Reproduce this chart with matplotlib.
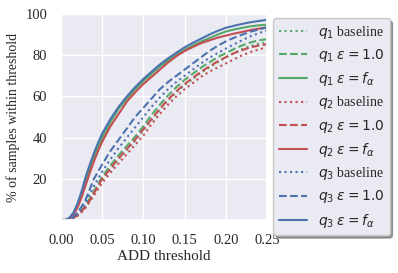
import matplotlib
matplotlib.use("Agg")
import matplotlib.pyplot as plt
import seaborn as sns

sns.set_theme(style="darkgrid")
plt.rcParams['font.family'] = ['Liberation Serif', 'DejaVu Serif']
plt.rcParams['mathtext.fontset'] = 'dejavusans'

thr = [0, 0.005, 0.01, 0.015, 0.02, 0.025, 0.03, 0.035, 0.04, 0.045, 0.05,
       0.06, 0.07, 0.08, 0.09, 0.10, 0.11, 0.12, 0.13, 0.14, 0.15,
       0.16, 0.17, 0.18, 0.19, 0.20, 0.21, 0.22, 0.23, 0.24, 0.25]

q1_base = [0, 0, 0.2, 0.9, 2.2, 4, 6.3, 9.3, 12.5, 16, 19.5,
           24.5, 29.5, 34, 38.5, 43.5, 48.5, 53.5, 58, 62, 65.5,
           68.5, 71.5, 74, 76.5, 79, 81, 83, 84.5, 85.6, 86.3]
q1_eps1 = [0, 0, 0.3, 1.2, 2.6, 4.6, 7.2, 10.5, 14, 17.5, 21,
           26.5, 31.5, 36, 40.5, 45.5, 51, 56, 60.5, 64.5, 68,
           71, 74, 76.5, 79, 81, 83, 84.8, 86.2, 87.2, 87.8]
q1_falpha = [0, 0, 0.8, 3, 7, 12.5, 19, 25, 30.5, 35.5, 40,
             47.5, 54, 59, 63.5, 67.5, 71, 74.5, 77.5, 80.2, 82.6,
             84.7, 86.6, 88.3, 90, 91.5, 92.5, 93.3, 94, 94.5, 94.8]
q2_base = [0, 0, 0.2, 0.8, 2, 3.8, 6, 9, 12, 15, 18,
           23, 27.5, 32, 36.5, 41, 46.5, 51.5, 56, 60, 63.5,
           66.5, 69.5, 72, 74, 76, 78, 80, 81.5, 82.8, 83.8]
q2_eps1 = [0, 0, 0.2, 1, 2.3, 4.2, 6.5, 9.5, 13, 16.5, 20,
           25, 30, 34.5, 39, 44, 49, 54, 58.5, 62.5, 66,
           69, 72, 74.5, 77, 79, 81, 82.5, 83.8, 84.7, 85.3]
q2_falpha = [0, 0, 0.5, 2.5, 6, 11, 17, 23, 28.5, 33.5, 38,
             45.5, 51.5, 57.5, 62, 66, 69.5, 73, 76.5, 79.5, 82,
             84, 85.8, 87.2, 88.5, 89.5, 90.5, 91.3, 92.2, 92.9, 93.5]
q3_base = [0, 0, 0.3, 1.3, 3, 5.5, 8.5, 12.5, 16.5, 20, 23.5,
           29.5, 35, 40, 45, 50, 55, 59.5, 63.5, 67, 70,
           73, 76, 78.7, 81, 83.2, 85.3, 87.3, 89.2, 90.7, 92]
q3_eps1 = [0, 0, 0.3, 1.5, 3.5, 6.5, 10, 15, 20, 23.5, 27,
           33.5, 39, 44.5, 50, 54.5, 59, 63.5, 67, 70, 73,
           76, 79, 82, 84.5, 86.7, 88.5, 90, 91.4, 92.5, 93.5]
q3_falpha = [0, 0, 1, 3.5, 8, 14, 21, 27, 32.5, 37.5, 42,
             49, 55, 60, 64.5, 68.5, 72, 75.5, 78.5, 81.2, 83.8,
             86, 88, 90, 91.8, 93.3, 94.3, 95.2, 96, 96.6, 97.2]

series = [
    (q1_base, 'g', ':', r'$q_1$ baseline'),
    (q1_eps1, 'g', '--', r'$q_1$ $\varepsilon = 1.0$'),
    (q1_falpha, 'g', '-', r'$q_1$ $\varepsilon = f_\alpha$'),
    (q2_base, 'r', ':', r'$q_2$ baseline'),
    (q2_eps1, 'r', '--', r'$q_2$ $\varepsilon = 1.0$'),
    (q2_falpha, 'r', '-', r'$q_2$ $\varepsilon = f_\alpha$'),
    (q3_base, 'b', ':', r'$q_3$ baseline'),
    (q3_eps1, 'b', '--', r'$q_3$ $\varepsilon = 1.0$'),
    (q3_falpha, 'b', '-', r'$q_3$ $\varepsilon = f_\alpha$'),
]
colors = {'g': '#55A868', 'r': '#C44E52', 'b': '#4C72B0'}

fig = plt.figure(figsize=(3.98, 2.73), dpi=100)
ax = fig.add_axes([61/398, 1-220/273, 206/398, 206/273])
for vals, c, ls, lab in series:
    ax.plot(thr, vals, color=colors[c], linestyle=ls, linewidth=1.5, label=lab)

ax.set_xlim(0, 0.25)
ax.set_ylim(0, 100)
ax.set_xticks([0, 0.05, 0.10, 0.15, 0.20, 0.25])
ax.set_xticklabels(['0.00', '0.05', '0.10', '0.15', '0.20', '0.25'])
ax.set_yticks([20, 40, 60, 80, 100])
ax.tick_params(labelsize=10.5, pad=4)
ax.set_xlabel('ADD threshold', fontsize=11, labelpad=2)
ax.set_ylabel('% of samples within threshold', fontsize=10, labelpad=4)

leg = ax.legend(loc='upper left', bbox_to_anchor=(1.03, 0.98), borderaxespad=0,
                fontsize=10, shadow=True, frameon=True, labelspacing=0.45,
                handlelength=2.0)
leg.get_frame().set_edgecolor('#c8c8c8')

fig.savefig('out.png', dpi=100)
